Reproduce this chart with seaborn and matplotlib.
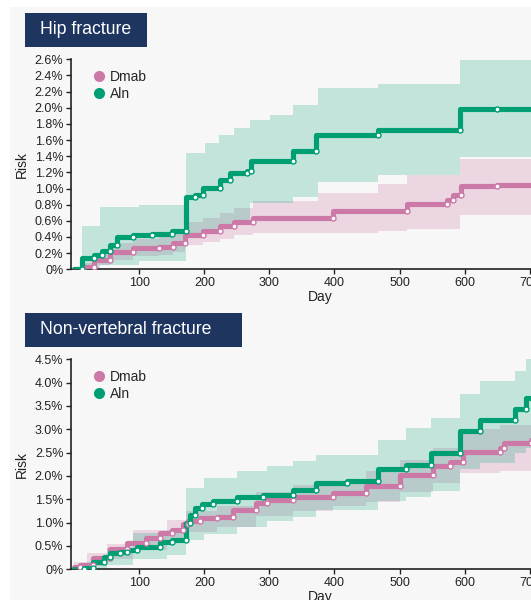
import numpy as np
import pandas as pd
import matplotlib
matplotlib.use("Agg")
import matplotlib.pyplot as plt
from matplotlib.patches import Rectangle
from matplotlib.lines import Line2D
from matplotlib.ticker import FuncFormatter
import seaborn as sns

# ---------------- Hip fracture (cumulative risk, %) ----------------
hip_aln_days = [0, 12, 31, 43, 55, 66, 90, 120, 150, 172, 185, 198, 224, 240, 265, 272, 337, 372, 467, 593, 650, 760]
hip_aln_risk = [0, 0.14, 0.18, 0.23, 0.30, 0.40, 0.42, 0.44, 0.47, 0.90, 0.92, 1.01, 1.10, 1.19, 1.22, 1.34, 1.47, 1.66, 1.73, 1.99, 1.98, 1.97]
hip_aln_band_days = [0, 12, 40, 100, 172, 201, 222, 245, 270, 301, 337, 375, 467, 593, 760]
hip_aln_upper = [0, 0.53, 0.77, 0.80, 1.44, 1.56, 1.66, 1.75, 1.85, 1.91, 2.03, 2.24, 2.30, 2.59, 2.59]
hip_aln_lower = [0, 0.02, 0.05, 0.10, 0.45, 0.50, 0.55, 0.60, 0.82, 0.82, 0.90, 1.08, 1.17, 1.39, 1.39]

hip_dmab_days = [0, 14, 30, 55, 91, 131, 152, 170, 198, 224, 245, 275, 398, 511, 573, 583, 595, 650, 760]
hip_dmab_risk = [0, 0.03, 0.12, 0.22, 0.26, 0.28, 0.33, 0.43, 0.47, 0.53, 0.59, 0.63, 0.72, 0.81, 0.86, 0.92, 1.03, 1.04, 1.02]
hip_dmab_band_days = [0, 14, 30, 55, 91, 131, 152, 170, 198, 224, 245, 275, 375, 467, 511, 593, 760]
hip_dmab_upper = [0, 0.08, 0.20, 0.32, 0.38, 0.41, 0.47, 0.58, 0.63, 0.70, 0.76, 0.84, 0.94, 1.06, 1.17, 1.37, 1.37]
hip_dmab_lower = [0, 0, 0.05, 0.12, 0.16, 0.18, 0.22, 0.30, 0.34, 0.38, 0.43, 0.45, 0.45, 0.47, 0.50, 0.67, 0.67]

# ---------------- Non-vertebral fracture (cumulative risk, %) ----------------
nv_aln_days = [0, 15, 29, 45, 55, 70, 81, 96, 132, 150, 172, 178, 186, 196, 214, 250, 290, 337, 372, 420, 467, 510, 548, 593, 623, 677, 694, 760]
nv_aln_risk = [0, 0.02, 0.16, 0.27, 0.34, 0.38, 0.41, 0.48, 0.59, 0.62, 1.00, 1.16, 1.31, 1.40, 1.46, 1.55, 1.60, 1.71, 1.86, 1.89, 2.14, 2.24, 2.49, 2.96, 3.21, 3.43, 3.68, 3.70]
nv_aln_band_days = [0, 20, 50, 91, 142, 172, 200, 250, 296, 337, 372, 467, 510, 548, 593, 623, 677, 694, 760]
nv_aln_upper = [0.05, 0.15, 0.45, 0.77, 0.85, 1.75, 1.95, 2.10, 2.21, 2.32, 2.46, 2.78, 3.03, 3.25, 3.75, 4.04, 4.25, 4.50, 4.50]
nv_aln_lower = [0, 0, 0.10, 0.22, 0.30, 0.63, 0.75, 0.90, 1.03, 1.13, 1.28, 1.46, 1.56, 1.67, 2.14, 2.28, 2.49, 2.60, 2.60]

nv_dmab_days = [0, 9, 29, 55, 81, 110, 132, 150, 167, 175, 193, 219, 244, 280, 296, 337, 398, 449, 500, 551, 577, 598, 654, 660, 702, 760]
nv_dmab_risk = [0.05, 0.09, 0.25, 0.43, 0.56, 0.68, 0.77, 0.85, 0.97, 1.03, 1.10, 1.13, 1.28, 1.42, 1.49, 1.56, 1.63, 1.78, 2.03, 2.21, 2.31, 2.52, 2.59, 2.70, 2.77, 2.77]
nv_dmab_band_days = [0, 20, 50, 91, 142, 172, 219, 280, 337, 398, 449, 500, 551, 593, 654, 760]
nv_dmab_upper = [0.15, 0.35, 0.55, 0.85, 1.05, 1.25, 1.35, 1.65, 1.80, 1.90, 2.10, 2.35, 2.60, 3.00, 3.10, 3.15]
nv_dmab_lower = [0.02, 0.08, 0.22, 0.42, 0.60, 0.80, 0.90, 1.15, 1.25, 1.35, 1.45, 1.65, 1.85, 2.06, 2.10, 2.15]

groups = ["Dmab", "Aln"]
palette = {"Dmab": "#CC79A7", "Aln": "#009E73"}
band_alpha = {"Dmab": 0.26, "Aln": 0.21}

panels = [
    dict(title="Hip fracture", ymax=2.6, ystep=0.2,
         series={"Dmab": (hip_dmab_days, hip_dmab_risk, hip_dmab_band_days, hip_dmab_lower, hip_dmab_upper),
                 "Aln": (hip_aln_days, hip_aln_risk, hip_aln_band_days, hip_aln_lower, hip_aln_upper)}),
    dict(title="Non-vertebral fracture", ymax=4.5, ystep=0.5,
         series={"Dmab": (nv_dmab_days, nv_dmab_risk, nv_dmab_band_days, nv_dmab_lower, nv_dmab_upper),
                 "Aln": (nv_aln_days, nv_aln_risk, nv_aln_band_days, nv_aln_lower, nv_aln_upper)}),
]
x_ticks = [100, 200, 300, 400, 500, 600, 700]

sns.set_theme(style="ticks")
plt.rcParams["font.family"] = ["Liberation Sans", "DejaVu Sans"]

W, H = 531, 600
fig = plt.figure(figsize=(W / 100, H / 100), dpi=100, facecolor="white")
bg = "#f7f7f7"
fig.add_artist(Rectangle((10 / W, 0), 1 - 10 / W, 1 - 7 / H, transform=fig.transFigure,
                         facecolor=bg, edgecolor="none", zorder=0))

def px_box(x0, y0, x1, y1):
    # pixel box (top-left origin) -> figure fraction [left, bottom, width, height]
    return [x0 / W, 1 - y1 / H, (x1 - x0) / W, (y1 - y0) / H]

axes_boxes = [px_box(71, 59.3, 71 + 765 * 0.6505, 269.3),
              px_box(71, 359.3, 71 + 765 * 0.6505, 569.3)]
title_boxes = [(25, 13, 147, 47), (25, 313, 242, 347)]

pct = FuncFormatter(lambda v, _: "0%" if abs(v) < 1e-9 else f"{v:.1f}%")

for panel, box, tbox in zip(panels, axes_boxes, title_boxes):
    ax = fig.add_axes(box)
    ax.set_facecolor("none")

    rows = []
    for g in groups:
        d, r, bd, lo, up = panel["series"][g]
        ax.fill_between(bd, lo, up, step="post", color=palette[g], alpha=band_alpha[g],
                        linewidth=0, zorder=1)
        rows += [{"day": x, "risk": y, "group": g} for x, y in zip(d, r)]
    df = pd.DataFrame(rows)

    sns.lineplot(data=df, x="day", y="risk", hue="group", hue_order=groups, palette=palette,
                 estimator=None, drawstyle="steps-post", linewidth=3.7, legend=False,
                 ax=ax, zorder=3)

    # open censoring circles at the foot of each step
    for g in groups:
        d, r = panel["series"][g][0], panel["series"][g][1]
        ax.plot(d[1:-1], r[:-2], linestyle="none", marker="o", markersize=3.6,
                markerfacecolor="white", markeredgecolor=palette[g], markeredgewidth=1.0,
                zorder=4)

    ax.set_xlim(-5, 760)
    ax.set_ylim(0, panel["ymax"])
    ax.set_xticks(x_ticks)
    ax.set_yticks(np.round(np.arange(0, panel["ymax"] + 1e-6, panel["ystep"]), 2))
    ax.yaxis.set_major_formatter(pct)
    ax.tick_params(axis="both", labelsize=9, length=3.5, width=1, color="#222222",
                   labelcolor="#222222", pad=2)
    for s in ["top", "right"]:
        ax.spines[s].set_visible(False)
    for s in ["left", "bottom"]:
        ax.spines[s].set_linewidth(1.2)
        ax.spines[s].set_color("#222222")
    ax.set_xlabel("Day", fontsize=10, color="#222222", labelpad=1)
    ax.set_ylabel("Risk", fontsize=10, color="#222222", labelpad=4)

    handles = [Line2D([], [], linestyle="none", marker="o", markersize=8,
                      markerfacecolor=palette[g], markeredgecolor="none") for g in groups]
    ax.legend(handles, groups, loc="upper left", bbox_to_anchor=(0.02, 0.995), frameon=False,
              fontsize=10, handletextpad=0.2, labelspacing=0.2, borderaxespad=0.3,
              handlelength=1.2)

    x0, y0, x1, y1 = tbox
    fig.add_artist(Rectangle((x0 / W, 1 - y1 / H), (x1 - x0) / W, (y1 - y0) / H,
                             transform=fig.transFigure, facecolor="#1e3560",
                             edgecolor="none", zorder=5))
    fig.text((x0 + 15) / W, 1 - (y0 + y1) / 2 / H, panel["title"], color="white",
             fontsize=12.7, ha="left", va="center", zorder=6)

fig.savefig("out.png", dpi=100, facecolor="white")
